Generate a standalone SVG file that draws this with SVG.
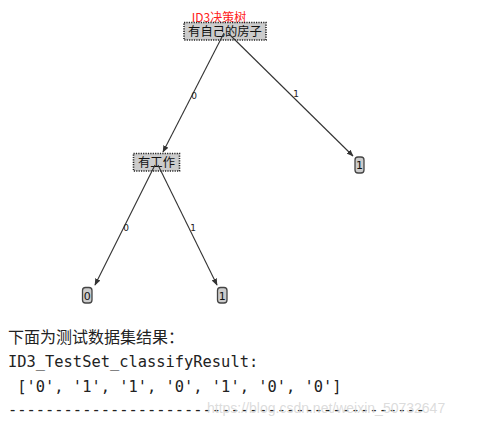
<svg xmlns="http://www.w3.org/2000/svg" width="489" height="427" viewBox="0 0 489 427">
<defs>
<marker id="ah" viewBox="0 0 10 10" refX="9" refY="5" markerWidth="7" markerHeight="7" orient="auto" markerUnits="userSpaceOnUse">
<path d="M0,1 L10,5 L0,9 Z" fill="#333"/>
</marker>
</defs>
<style>
.dec{fill:#cccccc;stroke:#222;stroke-width:1.6;stroke-dasharray:1.2 1.2}
.leaf{fill:#cccccc;stroke:#444;stroke-width:1.3}
.nt{font-family:"Noto Sans CJK SC","DejaVu Sans",sans-serif;font-size:12.3px;fill:#111;text-anchor:middle}
.lt{font-family:"DejaVu Sans",sans-serif;font-size:11px;fill:#111;text-anchor:middle}
.el{font-family:"DejaVu Sans",sans-serif;font-size:9px;fill:#222;text-anchor:middle}
.edge{stroke:#333;stroke-width:1.1;fill:none;marker-end:url(#ah)}
.mono{font-family:"DejaVu Sans Mono","Liberation Mono",monospace;font-size:15.4px;fill:#222;white-space:pre}
</style>
<rect width="489" height="427" fill="#fff"/>
<text x="219" y="21.5" font-family="Noto Sans CJK SC,sans-serif" font-size="12" fill="#ff2020" text-anchor="middle">ID3决策树</text>
<g id="n-root">
<rect class="dec" x="184" y="22.5" width="82" height="17.5"/>
<text class="nt" x="225" y="36">有自己的房子</text>
</g>
<g id="n-job">
<rect class="dec" x="133.5" y="153.5" width="46" height="17.5"/>
<text class="nt" x="156.5" y="167">有工作</text>
</g>
<g id="leaf-r1">
<rect class="leaf" x="355" y="157" width="9" height="16" rx="3"/>
<text class="lt" x="359.5" y="169">1</text>
</g>
<g id="leaf-0">
<rect class="leaf" x="82.5" y="287.5" width="9.5" height="15.5" rx="3"/>
<text class="lt" x="87.3" y="299.5">0</text>
</g>
<g id="leaf-1">
<rect class="leaf" x="217.5" y="287.5" width="9.5" height="15.5" rx="3"/>
<text class="lt" x="222.3" y="299.5">1</text>
</g>
<g id="connectors">
<line class="edge" x1="224" y1="33" x2="163" y2="152"/>
<line class="edge" x1="228" y1="33" x2="353" y2="156"/>
<line class="edge" x1="155" y1="165" x2="95" y2="285"/>
<line class="edge" x1="158" y1="165" x2="217" y2="285"/>
<text class="el" x="194" y="99">0</text>
<text class="el" x="296" y="97">1</text>
<text class="el" x="126" y="231">0</text>
<text class="el" x="193" y="231">1</text>
</g>
<text x="8" y="343" font-family="Noto Sans CJK SC,sans-serif" font-size="16" fill="#222">下面为测试数据集结果：</text>
<text class="mono" x="8" y="367">ID3_TestSet_classifyResult:</text>
<text class="mono" x="8" y="392"> ['0', '1', '1', '0', '1', '0', '0']</text>
<text class="mono" x="8" y="415">---------------------------------------------</text>
<text x="207" y="413" font-family="Liberation Sans,sans-serif" font-size="14" fill="#d8d8d8" fill-opacity="0.9">https://blog.csdn.net/weixin_50732647</text>
</svg>
